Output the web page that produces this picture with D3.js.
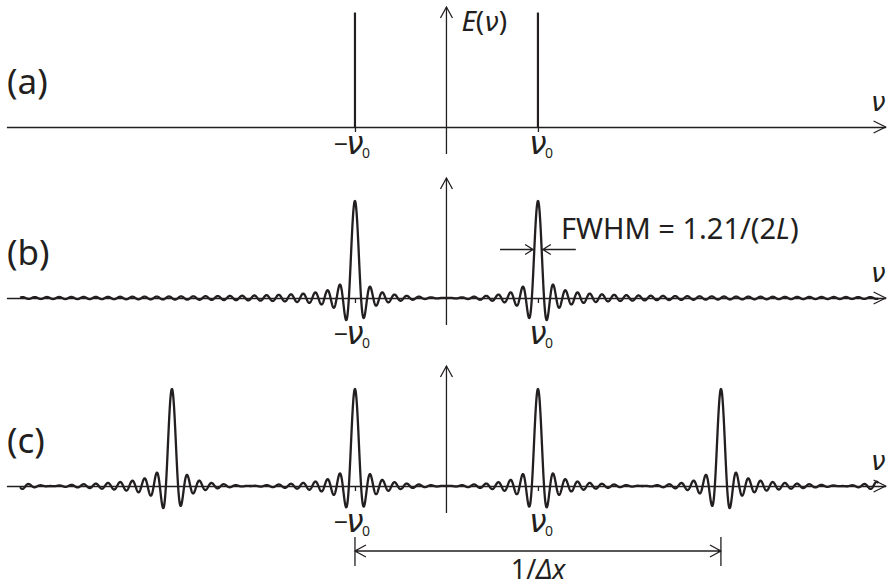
<!DOCTYPE html>
<html>
<head>
<meta charset="utf-8">
<script src="https://cdn.jsdelivr.net/npm/d3@7"></script>
<style>
  body { margin: 0; background: #fff; }
  svg text { font-family: "Noto Sans", sans-serif; fill: #231f20; }
  svg text.nu, svg tspan.nu { font-family: "DejaVu Sans", sans-serif; font-style: oblique; }
</style>
</head>
<body>
<div id="chart"></div>
<script>
// values in units of nu0
var panelLabels = ["(a)", "(b)", "(c)"];
var lineCenters = [-1, 1];          // -nu0, +nu0
var stickHeights = [1.18, 1.18];     // delta lines in (a)
var replicaShifts = [-1, 0, 1];     // multiples of 1/dx in (c)
var period = 4;                      // 1/dx = 4 nu0
var sincK = 15;                      // 2L*nu0
var curveStart = -4.66, curveEnd = 4.72;
var tickSigns = ["\u2212", ""];

var w = 887, h = 587;
var ink = "#231f20";
var bases = [127, 298, 486];
var labelDrop = [27, 46, 46];

var svg = d3.select("#chart").append("svg")
    .attr("width", w).attr("height", h);

var x = d3.scaleLinear().domain([-4.81, 4.8]).range([6.4, 885.6]);

function sinc(u) {
    if (Math.abs(u) < 1e-9) return 1;
    return Math.sin(Math.PI * u) / (Math.PI * u);
}

// spectrum of (b) and (c)
function spectrum(centers) {
    var pts = [];
    for (var v = curveStart; v <= curveEnd; v += 0.002) {
        var s = 0;
        centers.forEach(function(c) { s += sinc(sincK * (v - c)); });
        pts.push([v, s]);
    }
    return pts;
}

var centersB = lineCenters.slice();
var centersC = [];
replicaShifts.forEach(function(k) {
    lineCenters.forEach(function(c) { centersC.push(c + k * period); });
});

bases.forEach(function(base, i) {
    var y = d3.scaleLinear().domain([0, 1]).range([base, base - 97]);
    var g = svg.append("g");

    // horizontal axis
    var axis = d3.axisBottom(x).tickValues(lineCenters).tickSize(5)
        .tickSizeOuter(0).tickFormat("");
    var ax = g.append("g").attr("transform", "translate(0," + base + ")").call(axis);
    ax.select(".domain").attr("stroke", ink).attr("stroke-width", 1.3);
    ax.selectAll(".tick line").attr("stroke", ink).attr("stroke-width", 1.3);
    var xe = x.range()[1];
    g.append("path")
        .attr("d", "M" + (xe - 12) + "," + (base - 6) + "L" + xe + "," + base + "L" + (xe - 12) + "," + (base + 6))
        .attr("fill", "none").attr("stroke", ink).attr("stroke-width", 1.3);

    // vertical axis
    var x0 = x(0);
    g.append("line")
        .attr("x1", x0).attr("x2", x0)
        .attr("y1", base - 120).attr("y2", base + 27)
        .attr("stroke", ink).attr("stroke-width", 1.3);
    g.append("path")
        .attr("d", "M" + (x0 - 6) + "," + (base - 109) + "L" + x0 + "," + (base - 120) + "L" + (x0 + 6) + "," + (base - 109))
        .attr("fill", "none").attr("stroke", ink).attr("stroke-width", 1.3);

    // labels
    g.append("text").attr("x", 7).attr("y", base - 33)
        .attr("font-size", 35).text(panelLabels[i]);
    g.append("text").attr("class", "nu").attr("x", 871).attr("y", base - 16)
        .attr("font-size", 26).text("\u03bd");

    lineCenters.forEach(function(c, j) {
        var yb = base + labelDrop[i];
        g.append("text").attr("class", "nu").attr("x", x(c)).attr("y", yb)
            .attr("text-anchor", "middle").attr("font-size", 31).text("\u03bd");
        if (tickSigns[j]) {
            g.append("text").attr("x", x(c) - 7).attr("y", yb - 1)
                .attr("text-anchor", "end").attr("font-size", 25).text(tickSigns[j]);
        }
        g.append("text").attr("x", x(c) + 7).attr("y", yb + 4)
            .attr("font-size", 14).text("0");
    });

    if (i === 0) {
        g.selectAll(".stick").data(lineCenters).enter()
            .append("line")
            .attr("x1", function(d) { return x(d); })
            .attr("x2", function(d) { return x(d); })
            .attr("y1", base)
            .attr("y2", function(d, j) { return y(stickHeights[j]); })
            .attr("stroke", ink).attr("stroke-width", 2.2);
        var e = g.append("text").attr("x", x0 + 15).attr("y", 31).attr("font-size", 28);
        e.append("tspan").attr("font-style", "italic").text("E");
        e.append("tspan").text("(");
        e.append("tspan").attr("class", "nu").attr("font-size", 26).text("\u03bd");
        e.append("tspan").text(")");
    } else {
        var line = d3.line().x(function(d) { return x(d[0]); }).y(function(d) { return y(d[1]); });
        g.append("path")
            .datum(spectrum(i === 1 ? centersB : centersC))
            .attr("d", line)
            .attr("fill", "none").attr("stroke", ink)
            .attr("stroke-width", 2.3).attr("stroke-linejoin", "round");
    }

    if (i === 1) {
        // FWHM markers
        var half = 1.207 / sincK / 2;
        var ya = y(0.5);
        var xl = x(1 - half) - 1.2, xr = x(1 + half) + 1.2;
        g.append("path")
            .attr("d", "M" + (xl - 33) + "," + ya + "H" + xl + "M" + (xl - 8) + "," + (ya - 5) + "L" + xl + "," + ya + "L" + (xl - 8) + "," + (ya + 5) +
                "M" + (xr + 33) + "," + ya + "H" + xr + "M" + (xr + 8) + "," + (ya - 5) + "L" + xr + "," + ya + "L" + (xr + 8) + "," + (ya + 5))
            .attr("fill", "none").attr("stroke", ink).attr("stroke-width", 1.3);
        var f = g.append("text").attr("x", 561).attr("y", 239).attr("font-size", 29);
        f.append("tspan").text("FWHM = 1.21/(2");
        f.append("tspan").attr("font-style", "italic").text("L");
        f.append("tspan").text(")");
    }

    if (i === 2) {
        // period marker 1/dx
        var xa = x(-1), xb = x(-1 + period), yd = base + 65;
        g.append("path")
            .attr("d", "M" + xa + "," + (yd - 14) + "V" + (yd + 15) + "M" + xb + "," + (yd - 14) + "V" + (yd + 15) +
                "M" + xa + "," + yd + "H" + xb +
                "M" + (xa + 11) + "," + (yd - 6) + "L" + xa + "," + yd + "L" + (xa + 11) + "," + (yd + 6) +
                "M" + (xb - 11) + "," + (yd - 6) + "L" + xb + "," + yd + "L" + (xb - 11) + "," + (yd + 6))
            .attr("fill", "none").attr("stroke", ink).attr("stroke-width", 1.3);
        var d = g.append("text").attr("x", x(1)).attr("y", 579)
            .attr("text-anchor", "middle").attr("font-size", 27);
        d.append("tspan").text("1/");
        d.append("tspan").attr("font-style", "italic").text("\u0394x");
    }
});
</script>
</body>
</html>
